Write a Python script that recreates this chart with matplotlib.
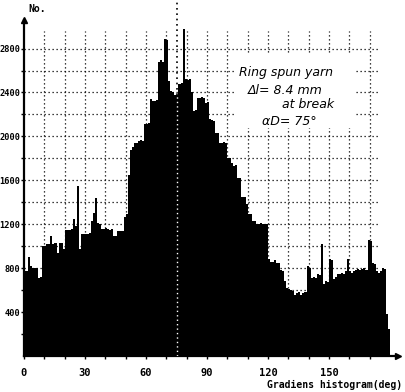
import numpy as np
import matplotlib
matplotlib.use('Agg')
import matplotlib.pyplot as plt

# =============================================================================
#                    Histogram values
# =============================================================================

# one bin per degree, 0..179
counts = [
    770, 770, 900, 820, 800, 800, 800, 710, 720, 1000,
    1000, 1020, 1020, 1090, 1020, 1030, 940, 1030, 1030, 970,
    1150, 1150, 1150, 1160, 1250, 1180, 1550, 970, 1110, 1110,
    1110, 1110, 1120, 1230, 1300, 1440, 1210, 1200, 1160, 1160,
    1170, 1160, 1150, 1160, 1090, 1090, 1140, 1140, 1140, 1270,
    1290, 1650, 1880, 1900, 1940, 1940, 1960, 1970, 1960, 2110,
    2110, 2120, 2340, 2320, 2320, 2330, 2680, 2700, 2680, 2890,
    2880, 2500, 2410, 2400, 2380, 2380, 2480, 2490, 2980, 2520,
    2510, 2520, 2400, 2230, 2240, 2350, 2350, 2360, 2350, 2300,
    2310, 2160, 2150, 2140, 2030, 2030, 1940, 1940, 1950, 1940,
    1800, 1800, 1760, 1730, 1740, 1620, 1620, 1450, 1450, 1380,
    1290, 1290, 1230, 1230, 1200, 1200, 1210, 1200, 1200, 1200,
    880, 860, 860, 870, 850, 850, 780, 770, 680, 620,
    610, 600, 590, 560, 570, 580, 560, 570, 580, 820,
    800, 710, 720, 710, 750, 740, 1020, 660, 680, 670,
    880, 870, 700, 720, 750, 750, 760, 750, 770, 880,
    770, 760, 770, 780, 790, 780, 790, 800, 780, 1060,
    1050, 850, 840, 770, 760, 770, 800, 790, 380, 250,
]
degrees = np.arange(len(counts))

x_ticks = [0, 30, 60, 90, 120, 150]
y_ticks = [400, 800, 1200, 1600, 2000, 2400, 2800]
alpha_d = 75

note_lines = ['Ring spun yarn', 'Δl= 8.4 mm', 'at break', 'αD= 75°']

# =============================================================================
#                                 Figure
# =============================================================================

fig = plt.figure(figsize=(4.06, 3.92), dpi=100)
ax = fig.add_axes([24 / 406, 36 / 392, 374 / 406, 336 / 392])
ax.set_xlim(0, 184)
ax.set_ylim(0, 3060)

dots = (0, (1, 2.2))

# dotted grid behind the bars
ax.vlines(np.arange(10, 180, 10), 0, 2960, colors='black',
          linestyles=dots, linewidth=0.9, zorder=1)
ax.hlines(np.arange(200, 3000, 200), 0, 175, colors='black',
          linestyles=dots, linewidth=0.9, zorder=1)

# white patch behind the note hides the grid
ax.fill_between([104, 163], 2080, 2740, color='white', zorder=2, lw=0)

ax.bar(degrees, counts, width=1, align='edge', color='black',
       linewidth=0, zorder=3)

# alpha_D marker line: white inside the bars, black above
top_at = counts[alpha_d]
ax.plot([alpha_d + 0.5] * 2, [0, top_at], color='white', ls=dots,
        lw=1.0, zorder=4)
ax.plot([alpha_d + 0.5] * 2, [top_at, 3300], color='black', ls=dots,
        lw=1.2, zorder=4, clip_on=False)

# the note, in italic
note_x = [106, 110, 127, 117]
note_y = [2580, 2420, 2290, 2140]
for txt, nx, ny in zip(note_lines, note_x, note_y):
    ax.text(nx, ny, txt, fontsize=9, style='italic', va='center',
            ha='left', zorder=5)

# axes like the old plotter output
for s in ['top', 'right']:
    ax.spines[s].set_visible(False)
ax.spines['left'].set_linewidth(1.6)
ax.spines['bottom'].set_linewidth(1.6)
ax.plot(0, 1, marker='^', color='black', ms=4, transform=ax.transAxes,
        clip_on=False)
ax.plot(1, 0, marker='>', color='black', ms=5, transform=ax.transAxes,
        clip_on=False)

ax.set_xticks(x_ticks)
ax.set_xticks(np.arange(10, 180, 10), minor=True)
ax.set_yticks(y_ticks)
ax.set_yticks(np.arange(200, 3000, 200), minor=True)

mono = {'family': 'DejaVu Sans Mono', 'weight': 'bold', 'size': 7.5}
ax.set_xticklabels([str(t) for t in x_ticks], fontdict=mono)
ax.set_yticklabels([str(t) for t in y_ticks], fontdict={**mono, 'size': 6.2})
ax.tick_params(axis='x', which='both', direction='out', length=2,
               width=1, pad=7)
ax.tick_params(axis='y', which='both', direction='out', length=2,
               width=1, pad=0.5)

fig.text(28 / 406, 1 - 9 / 392, 'No.', ha='left', va='center',
         fontdict={**mono, 'size': 7})
fig.text(402 / 406, 1 - 385 / 392, 'Gradiens histogram(deg)', ha='right',
         va='center', fontdict={**mono, 'size': 7})

fig.savefig('out.png', dpi=100)
